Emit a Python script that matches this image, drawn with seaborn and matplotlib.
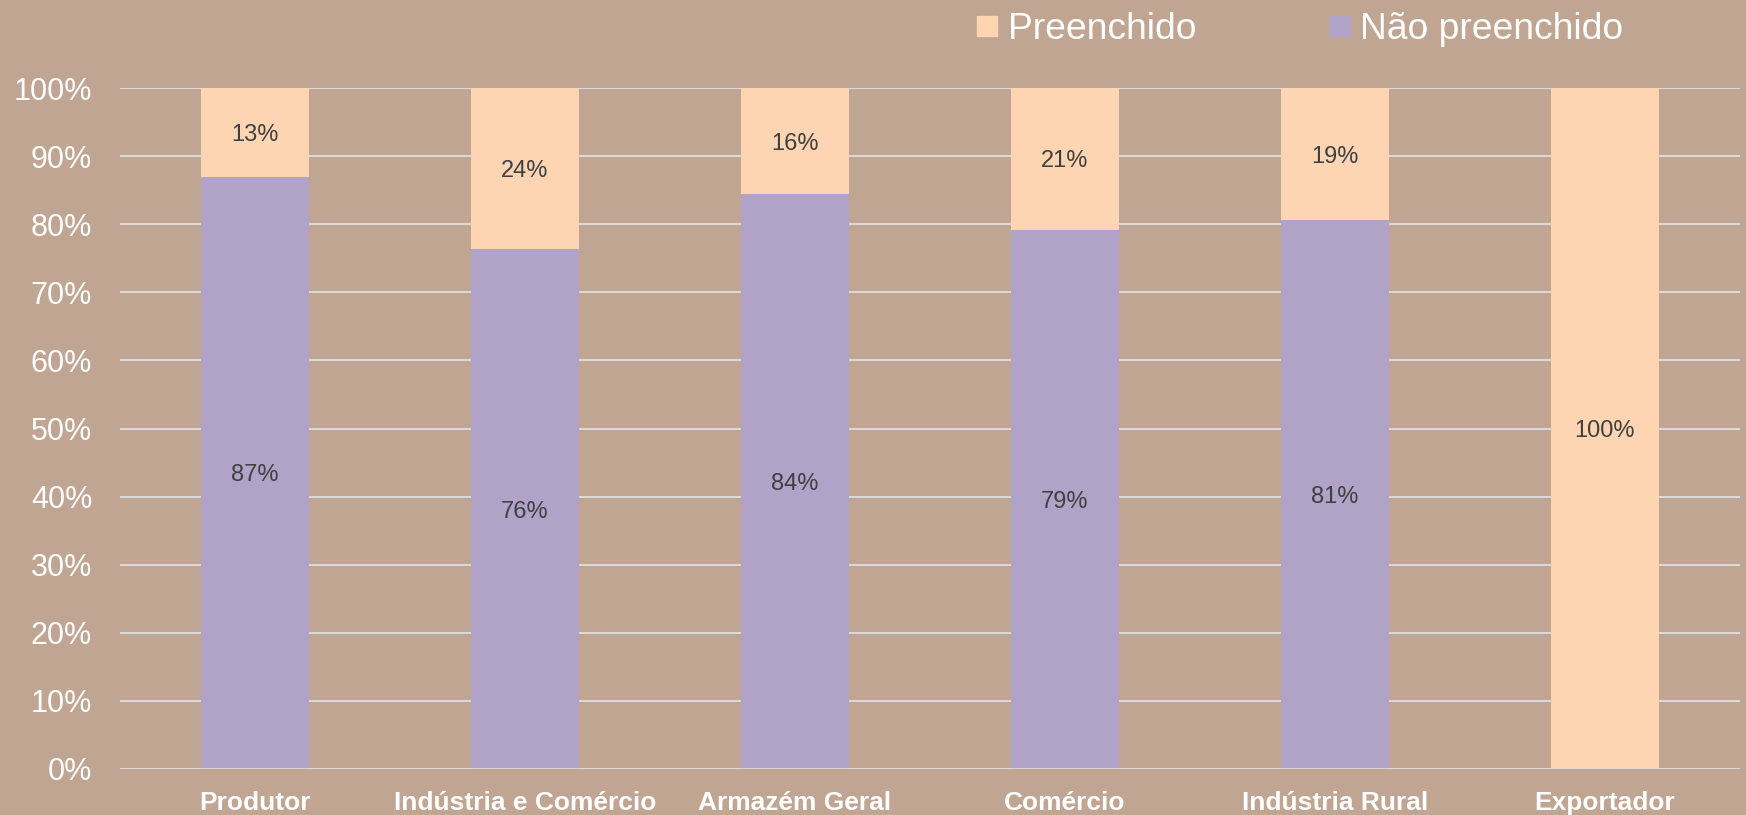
import matplotlib
matplotlib.use("Agg")
import matplotlib.pyplot as plt
import seaborn as sns
import pandas as pd
from matplotlib.lines import Line2D

categories = ["Produtor", "Indústria e Comércio", "Armazém Geral", "Comércio", "Indústria Rural", "Exportador"]
nao_preenchido = [87.0, 76.3, 84.4, 79.2, 80.6, 0.0]
preenchido = [13.0, 23.7, 15.6, 20.8, 19.4, 100.0]
nao_labels = ["87%", "76%", "84%", "79%", "81%", ""]
pre_labels = ["13%", "24%", "16%", "21%", "19%", "100%"]
yticks = [0, 10, 20, 30, 40, 50, 60, 70, 80, 90, 100]
ytick_labels = [f"{v}%" for v in yticks]

BG = "#BFA592"
PEACH = "#FDD5B3"
PURPLE = "#B1A2C7"
GRID = "#D9D9D9"

sns.set_theme(style="white")
plt.rcParams['font.family'] = ['Liberation Sans', 'DejaVu Sans']

df = pd.DataFrame({"cat": categories,
                   "nao": nao_preenchido,
                   "total": [a + b for a, b in zip(nao_preenchido, preenchido)]})

fig = plt.figure(figsize=(17.46, 8.15), dpi=100, facecolor=BG)
ax = fig.add_axes([120 / 1746, 1 - 769 / 815, 1620 / 1746, (769 - 88) / 815])
ax.set_facecolor(BG)

sns.barplot(data=df, x="cat", y="total", color=PEACH, width=0.4, saturation=1,
            ax=ax, zorder=3, linewidth=0)
sns.barplot(data=df, x="cat", y="nao", color=PURPLE, width=0.4, saturation=1,
            ax=ax, zorder=3, linewidth=0)

for i, (n, p) in enumerate(zip(nao_preenchido, preenchido)):
    if nao_labels[i]:
        ax.text(i, n / 2, nao_labels[i], ha="center", va="center_baseline",
                fontsize=17, color="#404040", zorder=5)
    ax.text(i, n + p / 2, pre_labels[i], ha="center", va="center_baseline",
            fontsize=17, color="#404040", zorder=5)

ax.set_ylim(0, 100)
ax.set_xlim(-0.5, len(categories) - 0.5)
ax.set_yticks(yticks)
ax.set_yticklabels(ytick_labels)
ax.yaxis.grid(True, color=GRID, linewidth=1.5, zorder=0)
ax.xaxis.grid(False)
for s in ax.spines.values():
    s.set_visible(False)
ax.axhline(0, color=GRID, linewidth=2, zorder=4)
ax.tick_params(axis="y", length=0, pad=20, labelsize=22, labelcolor="white")
ax.tick_params(axis="x", length=0, pad=16, labelsize=19, labelcolor="white")
for lab in ax.get_xticklabels():
    lab.set_fontweight("bold")
ax.set_xlabel("")
ax.set_ylabel("")

handles = [Line2D([], [], marker="s", linestyle="none", markersize=14,
                  markerfacecolor=PEACH, markeredgecolor=PEACH),
           Line2D([], [], marker="s", linestyle="none", markersize=14,
                  markerfacecolor=PURPLE, markeredgecolor=PURPLE)]
fig.legend(handles, ["Preenchido", "Não preenchido"], loc="center left",
           bbox_to_anchor=(0.558, 0.964), ncol=2, frameon=False,
           fontsize=26.8, labelcolor="white", handlelength=0.7,
           handletextpad=0.2, columnspacing=3.5, borderpad=0, borderaxespad=0)

fig.savefig("out.png", dpi=100, facecolor=BG)
